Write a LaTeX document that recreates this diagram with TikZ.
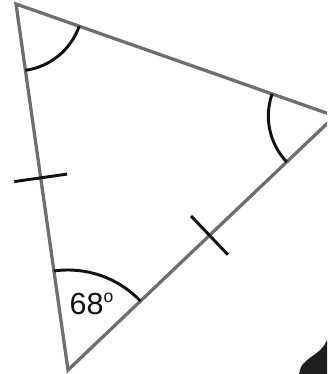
\documentclass[tikz,border=0pt]{standalone}
\usepackage{fontspec}
\setmainfont{Liberation Sans}
\usetikzlibrary{calc,angles}
\definecolor{side}{HTML}{6E6E6E}
\definecolor{ink}{HTML}{111111}
\definecolor{blob}{HTML}{1E1E1E}
\tikzset{
  edge/.style={draw=side,line width=2.8pt,line join=miter},
  arcmark/.style={draw=ink,line width=2.5pt},
  tickmark/.style={draw=ink,line width=2.5pt},
  lbl/.style={font=\fontsize{26}{30}\selectfont,text=ink,inner sep=0pt}
}
\newcommand{\dego}{\raisebox{10.5pt}{\fontsize{15}{15}\selectfont o}}
\begin{document}
\begin{tikzpicture}[x=0.03cm,y=-0.03cm]
  \useasboundingbox (0,0) rectangle (327,374);
  \clip (0,0) rectangle (327,374);
  \coordinate (A) at (16,4);
  \coordinate (B) at (335,116);
  \coordinate (C) at (68,370);
  \draw[edge] (A) -- (B) -- (C) -- cycle;
  % angle marks
  \pic[arcmark,angle radius=2.01cm] {angle=C--A--B};
  \pic[arcmark,angle radius=2.0cm] {angle=A--B--C};
  \pic[arcmark,angle radius=3.0cm] {angle=B--C--A};
  \node[lbl] (val) at (91.5,304) {68\dego};
  % equal sides
  \foreach \p/\q/\t in {A/C/0.475,C/B/0.53}{
    \coordinate (m\p) at ($(\p)!\t!(\q)$);
    \draw[tickmark] ($(m\p)!0.8cm!90:(\q)$) -- ($(m\p)!0.8cm!-90:(\q)$);
  }
  \fill[blob] (327,340) .. controls (322,352) and (312,355) .. (305,362) .. controls (301,366) .. (299,374) -- (327,374) -- cycle;
\end{tikzpicture}
\end{document}
